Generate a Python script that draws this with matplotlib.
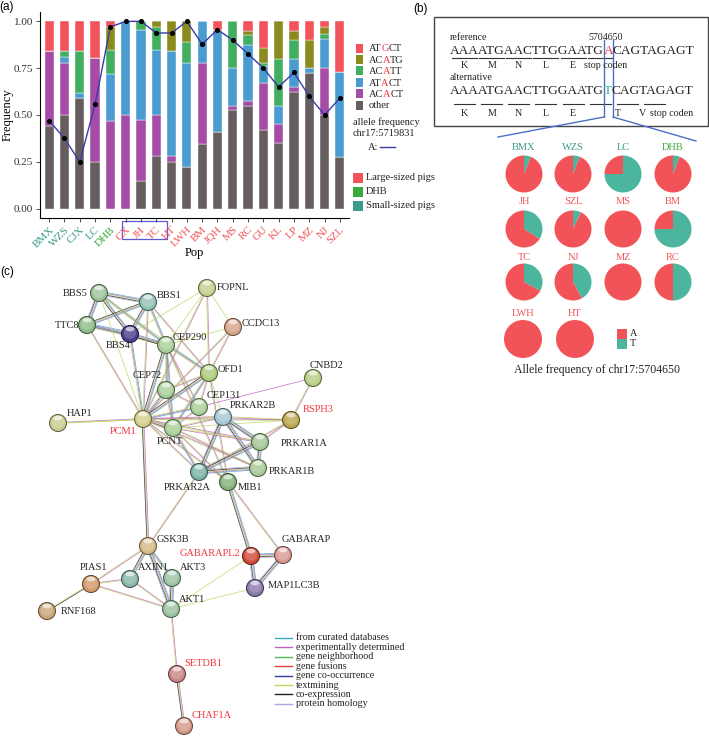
import numpy as np
import matplotlib
matplotlib.use('Agg')
import matplotlib.pyplot as plt
from matplotlib.patches import Rectangle, Circle, Ellipse
from matplotlib.font_manager import FontProperties
from matplotlib.colors import to_rgb

# ---------------- data: panel (a) ----------------
pops = ['BMX', 'WZS', 'CJX', 'LC', 'DHB', 'GX', 'JH', 'TC', 'HT', 'LWH',
        'BM', 'JQH', 'MS', 'RC', 'GU', 'KL', 'LP', 'MZ', 'NJ', 'SZL']
pop_group = ['small'] * 4 + ['dhb'] + ['large'] * 15
other = [0.44, 0.50, 0.59, 0.25, 0.00, 0.00, 0.15, 0.28, 0.25, 0.225,
         0.345, 0.41, 0.525, 0.55, 0.42, 0.35, 0.625, 0.725, 0.50, 0.275]
acact = [0.40, 0.28, 0.00, 0.555, 0.47, 0.50, 0.325, 0.22, 0.03, 0.00,
         0.435, 0.00, 0.025, 0.025, 0.25, 0.10, 0.025, 0.00, 0.25, 0.00]
atact = [0.00, 0.03, 0.03, 0.00, 0.25, 0.50, 0.48, 0.345, 0.56, 0.555,
         0.22, 0.545, 0.20, 0.30, 0.09, 0.10, 0.15, 0.025, 0.155, 0.455]
acatt = [0.00, 0.03, 0.22, 0.00, 0.125, 0.00, 0.045, 0.125, 0.00, 0.11,
         0.00, 0.00, 0.25, 0.05, 0.02, 0.25, 0.10, 0.00, 0.03, 0.00]
acatg = [0.00, 0.00, 0.00, 0.00, 0.125, 0.00, 0.00, 0.03, 0.16, 0.11,
         0.00, 0.00, 0.00, 0.025, 0.08, 0.20, 0.05, 0.15, 0.035, 0.00]
atgct = [0.16, 0.16, 0.16, 0.195, 0.03, 0.00, 0.00, 0.00, 0.00, 0.00,
         0.00, 0.045, 0.00, 0.05, 0.14, 0.00, 0.05, 0.10, 0.03, 0.27]
allele_A = [0.47, 0.375, 0.25, 0.557, 0.97, 1.0, 1.0, 0.938, 0.938, 1.0,
            0.878, 0.956, 0.90, 0.827, 0.75, 0.65, 0.727, 0.60, 0.50, 0.59]
hap_labels = ['ATGCT', 'ACATG', 'ACATT', 'ATACT', 'ACACT', 'other']
group_labels = ['Large-sized pigs', 'DHB', 'Small-sized pigs']

# ---------------- data: panel (b) ----------------
ref_seq = 'AAAATGAACTTGGAATGACAGTAGAGT'
alt_seq = 'AAAATGAACTTGGAATGTCAGTAGAGT'
ref_codons = ['K', 'M', 'N', 'L', 'E', 'stop coden']
alt_codons = ['K', 'M', 'N', 'L', 'E', 'T', 'V', 'stop coden']
snp_pos = '5704650'
pie_pops = ['BMX', 'WZS', 'LC', 'DHB', 'JH', 'SZL', 'MS', 'BM',
            'TC', 'NJ', 'MZ', 'RC', 'LWH', 'HT']
pie_group = ['small', 'small', 'small', 'dhb'] + ['large'] * 10
pie_T = [0.06, 0.06, 0.75, 0.06, 0.34, 0.07, 0.0, 0.75,
         0.33, 0.42, 0.0, 0.5, 0.0, 0.0]
pie_A = [1 - t for t in pie_T]

# ---------------- data: panel (c) ----------------
node_names = ['BBS5', 'BBS1', 'FOPNL', 'TTC8', 'BBS4', 'CEP290', 'CCDC13', 'OFD1',
              'CNBD2', 'CEP72', 'CEP131', 'HAP1', 'PCM1', 'PRKAR2B', 'RSPH3', 'PCNT',
              'PRKAR1A', 'PRKAR1B', 'PRKAR2A', 'MIB1', 'GSK3B', 'GABARAPL2', 'GABARAP',
              'PIAS1', 'AXIN1', 'AKT3', 'MAP1LC3B', 'RNF168', 'AKT1', 'SETDB1', 'CHAF1A']
highlight_genes = ['PCM1', 'RSPH3', 'GABARAPL2', 'SETDB1', 'CHAF1A']
edges = [
    ('BBS5', 'BBS1', 'cetxh'), ('BBS5', 'TTC8', 'cetxh'), ('BBS5', 'BBS4', 'cetx'),
    ('BBS1', 'TTC8', 'cetx'), ('BBS1', 'BBS4', 'cetx'), ('TTC8', 'BBS4', 'cetxh'),
    ('BBS5', 'CEP290', 'cet'), ('BBS1', 'CEP290', 'cet'), ('TTC8', 'CEP290', 'cet'),
    ('BBS4', 'CEP290', 'cetx'), ('BBS4', 'FOPNL', 't'), ('BBS1', 'OFD1', 'et'),
    ('BBS5', 'OFD1', 't'), ('TTC8', 'PCM1', 'et'), ('BBS4', 'PCM1', 'cet'),
    ('BBS5', 'PCM1', 't'), ('BBS1', 'PCM1', 'et'), ('FOPNL', 'OFD1', 'et'),
    ('FOPNL', 'PCM1', 'et'), ('FOPNL', 'CCDC13', 't'), ('FOPNL', 'CEP290', 't'),
    ('CCDC13', 'OFD1', 'et'), ('CCDC13', 'PCM1', 'et'), ('CCDC13', 'CEP290', 't'),
    ('CEP290', 'OFD1', 'cet'), ('CEP290', 'CEP72', 'cet'), ('CEP290', 'PCM1', 'cetx'),
    ('CEP290', 'PCNT', 'cet'), ('CEP290', 'CEP131', 'et'), ('CEP290', 'MIB1', 'et'),
    ('OFD1', 'PCM1', 'cetx'), ('OFD1', 'CEP72', 'et'), ('OFD1', 'PCNT', 'cet'),
    ('OFD1', 'CEP131', 'et'), ('OFD1', 'PRKAR2B', 't'), ('OFD1', 'MIB1', 'et'),
    ('CEP72', 'PCM1', 'cet'), ('CEP72', 'PCNT', 'et'), ('CEP72', 'CEP131', 'et'),
    ('CEP131', 'PCM1', 'cet'), ('CEP131', 'PCNT', 'et'), ('CNBD2', 'CEP131', 'e'),
    ('CNBD2', 'RSPH3', 'et'), ('HAP1', 'PCM1', 'et'), ('HAP1', 'PRKAR2B', 't'),
    ('PCM1', 'PCNT', 'cetx'), ('PCM1', 'PRKAR2B', 'et'), ('PCM1', 'RSPH3', 'et'),
    ('PCM1', 'PRKAR1A', 'et'), ('PCM1', 'PRKAR1B', 'et'), ('PCM1', 'PRKAR2A', 'et'),
    ('PCM1', 'MIB1', 'et'), ('PCM1', 'GSK3B', 'etx'), ('RSPH3', 'PRKAR2B', 'et'),
    ('RSPH3', 'PRKAR1A', 'et'), ('RSPH3', 'PRKAR2A', 'et'), ('RSPH3', 'PCNT', 't'),
    ('PRKAR2B', 'PRKAR1A', 'cetxh'), ('PRKAR2B', 'PRKAR1B', 'cetxh'),
    ('PRKAR2B', 'PRKAR2A', 'cetxh'), ('PRKAR2B', 'PCNT', 'et'),
    ('PRKAR1A', 'PRKAR1B', 'cetxh'), ('PRKAR1A', 'PRKAR2A', 'cetxh'),
    ('PRKAR1B', 'PRKAR2A', 'cetxh'), ('PRKAR2A', 'PCNT', 'cet'),
    ('PRKAR1A', 'PCNT', 'et'), ('PRKAR1B', 'PCNT', 'et'), ('MIB1', 'PCNT', 'et'),
    ('MIB1', 'GABARAPL2', 'cetx'), ('MIB1', 'GABARAP', 'et'), ('PRKAR2A', 'GSK3B', 'et'),
    ('GSK3B', 'PIAS1', 'et'), ('GSK3B', 'AXIN1', 'cetx'), ('GSK3B', 'AKT3', 'cet'),
    ('GSK3B', 'AKT1', 'cetxh'), ('PIAS1', 'AXIN1', 'et'), ('PIAS1', 'AKT1', 'et'),
    ('PIAS1', 'RNF168', 'xt'), ('AXIN1', 'AKT1', 'et'), ('AKT3', 'AKT1', 'cetxh'),
    ('AKT1', 'GABARAPL2', 't'), ('AKT1', 'MAP1LC3B', 't'), ('AKT1', 'SETDB1', 'et'),
    ('SETDB1', 'CHAF1A', 'etx'), ('GABARAPL2', 'GABARAP', 'cetxh'),
    ('GABARAPL2', 'MAP1LC3B', 'cetxh'), ('GABARAP', 'MAP1LC3B', 'cetxh'),
]
evidence_codes = ['c', 'e', 'n', 'f', 'o', 't', 'x', 'h']
evidence_labels = ['from curated databases', 'experimentally determined',
                   'gene neighborhood', 'gene fusions', 'gene co-occurrence',
                   'textmining', 'co-expression', 'protein homology']

# ---------------- layout / style ----------------
W, H = 709, 736
fig = plt.figure(figsize=(W / 100, H / 100), dpi=100)
SERIF = ['Liberation Serif', 'DejaVu Serif']
SANS = ['Liberation Sans', 'DejaVu Sans']
plt.rcParams['font.family'] = SERIF

hap_colors = ['#F3545B', '#8C8A1C', '#42AE60', '#4A9CD0', '#A44CA6', '#655D5E']
group_colors = {'large': '#F3545B', 'dhb': '#37A83A', 'small': '#3B9A8C'}
pie_red, pie_teal = '#F25359', '#4BB59E'
ev_colors = {'c': '#3AA8C8', 'e': '#C060C0', 'n': '#50B850', 'f': '#E84040',
             'o': '#3838A8', 't': '#B8D860', 'x': '#202020', 'h': '#A8A8E0'}
TXT = '#222222'


def fa(x0, y0, x1, y1):
    return [x0 / W, 1 - y1 / H, (x1 - x0) / W, (y1 - y0) / H]


# pixel overlay axes
axp = fig.add_axes([0, 0, 1, 1])
axp.set_xlim(0, W)
axp.set_ylim(H, 0)
axp.axis('off')
R = fig.canvas.get_renderer()


def tw(s, fp):
    w, h, d = R.get_text_width_height_descent(s, fp, ismath=False)
    return w


def multitext(x, y, parts, size, family=SERIF, zorder=5):
    fp = FontProperties(family=family, size=size)
    cx = x
    for s, col in parts:
        axp.text(cx, y, s, color=col, fontproperties=fp, ha='left',
                 va='baseline', zorder=zorder)
        cx += tw(s, fp) - 0.3
    return cx


# ---------------- panel (a) ----------------
ax = fig.add_axes(fa(40, 12, 349, 218))
x = np.arange(1, len(pops) + 1)
bottom = np.zeros(len(pops))
series = [other, acact, atact, acatt, acatg, atgct]
series_cols = [hap_colors[5], hap_colors[4], hap_colors[3], hap_colors[2],
               hap_colors[1], hap_colors[0]]
for vals, col in zip(series, series_cols):
    v = np.array(vals)
    ax.bar(x, v, 0.6, bottom=bottom, color=col, edgecolor='white', linewidth=0.3)
    bottom += v
ax.plot(x, allele_A, color='#3A3AA8', lw=1.0, zorder=4)
ax.scatter(x, allele_A, s=7, color='black', zorder=5)
ax.set_xlim(0.4, len(pops) + 0.6)
ax.set_ylim(-0.05, 1.05)
ax.set_yticks([0, 0.25, 0.5, 0.75, 1.0])
ax.set_yticklabels(['0.00', '0.25', '0.50', '0.75', '1.00'], fontsize=8, color='#333333')
ax.set_xticks(x)
ax.set_xticklabels(pops, rotation=45, ha='right', va='top', rotation_mode='anchor',
                   fontsize=8)
for lab, g in zip(ax.get_xticklabels(), pop_group):
    lab.set_color(group_colors[g])
ax.tick_params(length=3, width=0.6, color='#333333', pad=2)
for s in ['top', 'right']:
    ax.spines[s].set_visible(False)
for s in ['left', 'bottom']:
    ax.spines[s].set_linewidth(0.8)
ax.set_ylabel('Frequency', fontsize=9)
ax.yaxis.set_label_coords(-0.085, 0.5)
ax.set_xlabel('Pop', fontsize=9)
ax.xaxis.set_label_coords(0.5, -0.14)
axp.add_patch(Rectangle((122, 221), 45, 18, fill=False, ec='#5A5AD0', lw=0.9))
axp.text(7, 7, '(a)', fontsize=8.5, family=SANS, ha='center', va='center')

# legend (a)
for i, lab in enumerate(hap_labels):
    yc = 48 + 11.4 * i
    axp.add_patch(Rectangle((356, yc - 4.5), 6.5, 9, fc=hap_colors[i], ec='none'))
    if lab == 'other':
        parts = [(lab, TXT)]
    else:
        parts = [(lab[:2], TXT), (lab[2], '#F3343B'), (lab[3:], TXT)]
    multitext(369, yc + 3.4, parts, 7.5)
axp.text(353, 122, 'allele frequency', fontsize=7.5, va='center', color=TXT)
axp.text(353, 134, 'chr17:5719831', fontsize=7.5, va='center', color=TXT)
axp.text(368, 147, 'A:', fontsize=7.5, va='center', color=TXT)
axp.plot([380, 395], [147, 147], color='#3A3AA8', lw=1)
for i, (lab, g) in enumerate(zip(group_labels, ['large', 'dhb', 'small'])):
    yc = 178 + 14 * i
    axp.add_patch(Rectangle((353, yc - 5), 10, 10, fc=group_colors[g], ec='none'))
    axp.text(366, yc, lab, fontsize=7.5, va='center', color=TXT)

# ---------------- panel (b) ----------------
axp.text(421, 9, '(b)', fontsize=8.5, family=SANS, ha='center', va='center')
axp.add_patch(Rectangle((434, 17), 274, 109, fill=False, ec='#444444', lw=1.0))
fp_seq = FontProperties(family=SERIF, size=9.6)
fp_small = FontProperties(family=SERIF, size=7.2)
x0 = 450
axp.text(x0, 37, 'reference', fontproperties=fp_small, va='center', color=TXT)
axp.text(606, 37, snp_pos, fontproperties=fp_small, va='center', ha='center', color=TXT)
axp.text(x0, 78, 'alternative', fontproperties=fp_small, va='center', color=TXT)
multitext(x0, 54, [(ref_seq[:17], TXT), (ref_seq[17], '#F3343B'),
                   (ref_seq[18:], TXT)], 9.6)
multitext(x0, 94, [(alt_seq[:17], TXT), (alt_seq[17], '#2EB38C'),
                   (alt_seq[18:], TXT)], 9.6)
# codon underlines & labels
cod_edges = [x0 + tw(ref_seq[:3 * i], fp_seq) for i in range(10)]
cod_cent = [(cod_edges[i] + cod_edges[i + 1]) / 2 for i in range(9)]
for i, lab in enumerate(ref_codons):
    c = cod_cent[i]
    axp.plot([c - 12.5, c + 12.5], [58, 58], color='#333333', lw=0.8)
    xc = c if lab != 'stop coden' else c + 5
    axp.text(xc, 66, lab, fontproperties=fp_small, ha='center', va='center', color=TXT)
alt_lab_x = cod_cent[:5] + [618, 643, 650]
alt_lab_ha = ['center'] * 7 + ['left']
for i, lab in enumerate(alt_codons):
    c = cod_cent[i]
    axp.plot([c - 10.5, c + 10.5], [104, 104], color='#333333', lw=0.8)
    axp.text(alt_lab_x[i], 113, lab, fontproperties=fp_small, ha=alt_lab_ha[i],
             va='center', color=TXT)
blue = '#4A6FC8'
axp.plot([604, 604], [40, 117], color=blue, lw=1)
axp.plot([613, 613], [40, 117], color=blue, lw=1)
axp.plot([604, 498], [117, 137], color=blue, lw=1)
axp.plot([613, 696], [117, 141], color=blue, lw=1)

# pies
col_x = [524, 573, 623, 673]
row_y = [174, 229, 282, 339]
title_y = [148, 202, 257, 313]
for i, (name, g, t, a) in enumerate(zip(pie_pops, pie_group, pie_T, pie_A)):
    r_, c_ = divmod(i, 4)
    cx = col_x[c_] if r_ < 3 else [523, 575][c_]
    cy = row_y[r_]
    rad = 18.5 if r_ < 3 else 19
    pax = fig.add_axes(fa(cx - rad, cy - rad, cx + rad, cy + rad))
    pax.pie([t, a], colors=[pie_teal, pie_red], startangle=90, counterclock=False,
            radius=1, wedgeprops=dict(linewidth=0))
    pax.set_xlim(-1, 1)
    pax.set_ylim(-1, 1)
    pax.axis('off')
    axp.text(cx, title_y[r_], name, fontsize=7.5, ha='center', va='center',
             color=group_colors[g])
axp.add_patch(Rectangle((617, 329), 10, 9.5, fc=pie_red, ec='none'))
axp.add_patch(Rectangle((617, 339), 10, 9.5, fc=pie_teal, ec='none'))
axp.text(630, 333.5, 'A', fontsize=7.3, va='center', color=TXT)
axp.text(630, 344, 'T', fontsize=7.3, va='center', color=TXT)
axp.text(597, 370, 'Allele frequency of chr17:5704650', fontsize=8.5, ha='center',
         va='center', color=TXT)

# ---------------- panel (c) ----------------
axp.text(7, 272, '(c)', fontsize=8.5, family=SANS, ha='center', va='center')
node_pos = {
    'BBS5': (99, 293), 'BBS1': (148, 302), 'FOPNL': (207, 288), 'TTC8': (87, 325),
    'BBS4': (130, 334), 'CEP290': (166, 345), 'CCDC13': (233, 327), 'OFD1': (209, 373),
    'CNBD2': (313, 378), 'CEP72': (166, 390), 'CEP131': (199, 407), 'HAP1': (58, 423),
    'PCM1': (143, 419), 'PRKAR2B': (223, 417), 'RSPH3': (291, 420), 'PCNT': (173, 428),
    'PRKAR1A': (260, 442), 'PRKAR1B': (258, 468), 'PRKAR2A': (199, 472), 'MIB1': (228, 482),
    'GSK3B': (148, 546), 'GABARAPL2': (251, 556), 'GABARAP': (283, 555),
    'PIAS1': (91, 584), 'AXIN1': (130, 579), 'AKT3': (172, 578), 'MAP1LC3B': (255, 588),
    'RNF168': (47, 611), 'AKT1': (171, 609), 'SETDB1': (177, 674), 'CHAF1A': (184, 726),
}
node_col = {
    'BBS5': '#9EC29A', 'BBS1': '#93C2B6', 'FOPNL': '#C6D18E', 'TTC8': '#8FBD8A',
    'BBS4': '#4B3F8E', 'CEP290': '#A9CF98', 'CCDC13': '#D6A688', 'OFD1': '#AECB7C',
    'CNBD2': '#B8CD86', 'CEP72': '#A9CF98', 'CEP131': '#A9CF98', 'HAP1': '#CBCE92',
    'PCM1': '#D6CF8C', 'PRKAR2B': '#A6C6D6', 'RSPH3': '#BBA84E', 'PCNT': '#A9CF98',
    'PRKAR1A': '#A4C696', 'PRKAR1B': '#A8C896', 'PRKAR2A': '#7DB3A5', 'MIB1': '#86B27A',
    'GSK3B': '#D3BB88', 'GABARAPL2': '#D24A3B', 'GABARAP': '#D99A92', 'PIAS1': '#D39A6A',
    'AXIN1': '#8AB9AB', 'AKT3': '#9CC3A2', 'MAP1LC3B': '#8A79AA', 'RNF168': '#CBA87A',
    'AKT1': '#9CC3A2', 'SETDB1': '#C98684', 'CHAF1A': '#D49A88',
}
label_off = {
    'BBS5': (-11, 0, 'right'), 'BBS1': (9, -6, 'left'), 'FOPNL': (10, -1, 'left'),
    'TTC8': (-8, 1, 'right'), 'BBS4': (-12, 12, 'center'), 'CEP290': (7, -8, 'left'),
    'CCDC13': (9, -4, 'left'), 'OFD1': (9, -4, 'left'), 'CNBD2': (14, -13, 'center'),
    'CEP72': (-4, -14, 'right'), 'CEP131': (8, -11, 'left'), 'HAP1': (9, -10, 'left'),
    'PCM1': (-6, 13, 'right'), 'PRKAR2B': (7, -11, 'left'), 'RSPH3': (12, -11, 'left'),
    'PCNT': (-3, 14, 'center'), 'PRKAR1A': (21, 2, 'left'), 'PRKAR1B': (11, 3, 'left'),
    'PRKAR2A': (-12, 16, 'center'), 'MIB1': (10, 5, 'left'), 'GSK3B': (9, -6, 'left'),
    'GABARAPL2': (-11, -3, 'right'), 'GABARAP': (-1, -15, 'left'),
    'PIAS1': (2, -16, 'center'), 'AXIN1': (8, -11, 'left'), 'AKT3': (8, -10, 'left'),
    'MAP1LC3B': (13, -3, 'left'), 'RNF168': (14, 0, 'left'), 'AKT1': (8, -10, 'left'),
    'SETDB1': (7, -10, 'left'), 'CHAF1A': (8, -11, 'left'),
}
for a_, b_, codes in edges:
    p = np.array(node_pos[a_], float)
    q = np.array(node_pos[b_], float)
    d = q - p
    n = np.array([-d[1], d[0]]) / np.hypot(*d)
    k = len(codes)
    for j, cc in enumerate(codes):
        off = (j - (k - 1) / 2) * 0.9 * n
        axp.plot([p[0] + off[0], q[0] + off[0]], [p[1] + off[1], q[1] + off[1]],
                 color=ev_colors[cc], lw=0.55, alpha=0.85, zorder=2,
                 solid_capstyle='butt')

rad = 8.5
for name in node_names:
    cx, cy = node_pos[name]
    base = np.array(to_rgb(node_col[name]))
    dark = base * 0.5
    light = base + (1 - base) * 0.35
    axp.add_patch(Circle((cx, cy), rad, fc=base, ec=dark, lw=0.8, zorder=3))
    axp.add_patch(Circle((cx, cy - 1.2), rad * 0.72, fc=light, ec='none', alpha=0.55, zorder=3))
    axp.add_patch(Ellipse((cx, cy - rad * 0.58), rad * 1.05, rad * 0.55, fc='white',
                          ec='none', alpha=0.6, zorder=3))
    dx, dy, ha = label_off[name]
    axp.text(cx + dx, cy + dy, name, fontsize=7.5, ha=ha, va='center', zorder=4,
             color='#F3343B' if name in highlight_genes else TXT)

for i, (cc, lab) in enumerate(zip(evidence_codes, evidence_labels)):
    yy = 638 + 9.4 * i
    axp.plot([275, 292], [yy, yy], color=ev_colors[cc], lw=1.0)
    axp.text(296, yy, lab, fontsize=7.2, va='center', color=TXT)

fig.savefig('out.png', dpi=100)
